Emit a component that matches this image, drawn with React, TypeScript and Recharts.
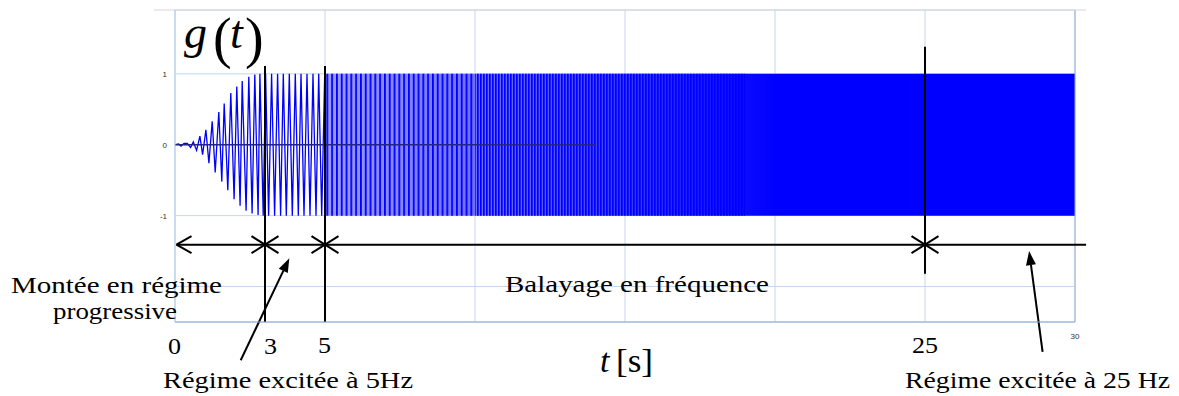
import React from "react";
import {
  ComposedChart,
  Line,
  Area,
  XAxis,
  YAxis,
  CartesianGrid,
  ReferenceLine,
} from "recharts";

// ramp-up (0-3 s) then steady 5 Hz (3-5 s): turning points
const waveTimes = [
  0, 0.12, 0.2, 0.3, 0.41, 0.52, 0.61, 0.72, 0.83, 0.92, 1.03, 1.13, 1.24,
  1.34, 1.46, 1.56, 1.64, 1.76, 1.86, 1.97, 2.06, 2.17, 2.24, 2.37, 2.46,
  2.57, 2.66, 2.77, 2.83, 2.94, 3.02, 3.12, 3.22, 3.32, 3.42, 3.52, 3.61,
  3.71, 3.81, 3.91, 4.01, 4.11, 4.2, 4.3, 4.4, 4.5, 4.6, 4.7, 4.79, 4.89,
  4.99,
];
const waveValues = [
  0, 0.01, -0.02, 0.02, 0.02, -0.04, 0.04, -0.08, 0.12, -0.14, 0.21, -0.26,
  0.33, -0.39, 0.46, -0.52, 0.58, -0.64, 0.73, -0.77, 0.82, -0.86, 0.9,
  -0.93, 0.96, -0.97, 0.99, -0.99, 1, -1, 1, -1, 1, -1, 1, -1, 1, -1, 1, -1,
  1, -1, 1, -1, 1, -1, 1, -1, 1, -1, 1,
];

// 5 -> 25 Hz sweep and 25 Hz part: too dense to resolve, kept as its envelope
const sweepTimes = [5, 10, 15, 19, 30];
const sweepUpper = [1, 1, 1, 1, 1];
const sweepLower = [-1, -1, -1, -1, -1];
// where the single cycles still show through (coarse, then fine)
const coarseEnd = 10;
const fineEnd = 19;

const xTicks = [0, 5, 10, 15, 20, 25, 30];
const yTicks = [-2, -1, 0, 1];
const yLabels = [-1, 0, 1];

// annotation markers (s)
const markTimes = [3, 5, 25];
const markTop = [1.11, 1.11, 1.38];
const markBottom = [-2.5, -2.5, -1.82];

const rows = [
  ...waveTimes.map((t, i) => ({ t, g: waveValues[i] })),
  ...sweepTimes.map((t, i) => {
    const env = [sweepLower[i], sweepUpper[i]];
    return {
      t,
      band: env,
      coarse: t <= coarseEnd ? env : undefined,
      fine: t >= coarseEnd && t <= fineEnd ? env : undefined,
    };
  }),
];

const serif = "'Liberation Serif', 'Times New Roman', serif";
const sans = "'Liberation Sans', Arial, sans-serif";

const arrowY = -1.41;
const cdx = 0.45;
const cdy = 0.12;

const chevrons: { x1: number; y1: number; x2: number; y2: number }[] = [];
markTimes.forEach((t) => {
  [-1, 1].forEach((sx) =>
    [-1, 1].forEach((sy) =>
      chevrons.push({ x1: t + sx * cdx, y1: arrowY + sy * cdy, x2: t, y2: arrowY })
    )
  );
});
[-1, 1].forEach((sy) =>
  chevrons.push({ x1: 0.05 + 0.5, y1: arrowY + sy * cdy, x2: 0.05, y2: arrowY })
);

const Pointer = (props: any) => {
  const { x1, y1, x2, y2 } = props;
  const a = Math.atan2(y2 - y1, x2 - x1);
  const len = 14;
  const half = 5;
  const bx = x2 - len * Math.cos(a);
  const by = y2 - len * Math.sin(a);
  const px = -Math.sin(a) * half;
  const py = Math.cos(a) * half;
  return (
    <g>
      <line x1={x1} y1={y1} x2={bx} y2={by} stroke="#000" strokeWidth={2} />
      <polygon
        points={`${x2},${y2} ${bx + px},${by + py} ${bx - px},${by - py}`}
        fill="#000"
      />
    </g>
  );
};

const XTick = ({ x, y, payload }: any) =>
  payload.value === 30 ? (
    <text x={x} y={y + 9} textAnchor="middle" fontSize={8} fontFamily={sans} fill="#333">
      30
    </text>
  ) : (
    <g />
  );

const YTick = ({ x, y, payload }: any) =>
  yLabels.includes(payload.value) ? (
    <text x={x - 6} y={y + 3} textAnchor="end" fontSize={8} fontFamily={sans} fill="#333">
      {payload.value}
    </text>
  ) : (
    <g />
  );

const Label = ({ x, y, size = 23, w, italic, children }: any) => (
  <text
    x={x}
    y={y}
    fontSize={size}
    fontStyle={italic ? "italic" : "normal"}
    textLength={w}
    lengthAdjust={w ? "spacingAndGlyphs" : undefined}
    style={{ fontFamily: serif }}
    fill="#000"
  >
    {children}
  </text>
);

export default function App() {
  return (
    <div style={{ position: "absolute", left: 0, top: 0, width: 1179, height: 396, background: "#fff" }}>
      <ComposedChart
        width={1179}
        height={396}
        data={rows}
        margin={{ top: 10, right: 104, bottom: 54, left: 135 }}
      >
        <defs>
          <linearGradient id="sweepFill" x1="0" y1="0" x2="1" y2="0">
            <stop offset="0" stopColor="#9c9cff" />
            <stop offset="0.2" stopColor="#7070ff" />
            <stop offset="0.4" stopColor="#3a3aff" />
            <stop offset="0.56" stopColor="#0a0aff" />
            <stop offset="0.6" stopColor="#0000ff" />
          </linearGradient>
          <pattern id="coarseStripes" width="4.8" height="8" patternUnits="userSpaceOnUse">
            <rect width="1.8" height="8" fill="#0000ff" />
          </pattern>
          <pattern id="fineStripes" width="3" height="8" patternUnits="userSpaceOnUse">
            <rect width="1.7" height="8" fill="#0000ff" />
          </pattern>
        </defs>
        <CartesianGrid stroke="#c4d6ee" />
        <XAxis
          dataKey="t"
          type="number"
          domain={[0, 30]}
          ticks={xTicks}
          tick={XTick}
          tickLine={false}
          axisLine={{ stroke: "#8ea8cc" }}
          height={20}
          allowDataOverflow
        />
        <YAxis
          type="number"
          domain={[-2.5, 1.9]}
          ticks={yTicks}
          tick={YTick}
          tickLine={false}
          tickSize={0}
          axisLine={{ stroke: "#b4cbe8" }}
          width={40}
          allowDataOverflow
        />
        <ReferenceLine x={30} stroke="#9ab0cc" />
        <ReferenceLine
          segment={[{ x: -0.7, y: 1.9 }, { x: 30.37, y: 1.9 }]}
          stroke="#d6d6d6"
          ifOverflow="visible"
        />
        <Area
          dataKey="band"
          type="linear"
          stroke="none"
          fill="url(#sweepFill)"
          fillOpacity={1}
          isAnimationActive={false}
        />
        <Area
          dataKey="coarse"
          type="linear"
          stroke="none"
          fill="url(#coarseStripes)"
          fillOpacity={1}
          isAnimationActive={false}
        />
        <Area
          dataKey="fine"
          type="linear"
          stroke="none"
          fill="url(#fineStripes)"
          fillOpacity={1}
          isAnimationActive={false}
        />
        <Line
          dataKey="g"
          type="linear"
          stroke="#0000ff"
          strokeWidth={1.3}
          dot={false}
          isAnimationActive={false}
        />
        <ReferenceLine
          segment={[{ x: 0, y: 0 }, { x: 14, y: 0 }]}
          stroke="#23238a"
          strokeWidth={1.5}
        />
        {markTimes.map((t, i) => (
          <ReferenceLine
            key={`m${t}`}
            segment={[{ x: t, y: markTop[i] }, { x: t, y: markBottom[i] }]}
            stroke="#000"
            strokeWidth={2}
            ifOverflow="visible"
          />
        ))}
        <ReferenceLine
          segment={[{ x: 0.05, y: arrowY }, { x: 30.37, y: arrowY }]}
          stroke="#000"
          strokeWidth={2}
          ifOverflow="visible"
        />
        {chevrons.map((c, i) => (
          <ReferenceLine
            key={`c${i}`}
            segment={[{ x: c.x1, y: c.y1 }, { x: c.x2, y: c.y2 }]}
            stroke="#000"
            strokeWidth={2}
            ifOverflow="visible"
          />
        ))}
        <ReferenceLine
          segment={[{ x: 2.19, y: -3.04 }, { x: 3.81, y: -1.6 }]}
          ifOverflow="visible"
          shape={Pointer}
        />
        <ReferenceLine
          segment={[{ x: 28.92, y: -2.92 }, { x: 28.47, y: -1.5 }]}
          ifOverflow="visible"
          shape={Pointer}
        />
      </ComposedChart>
      <svg
        width={1179}
        height={396}
        style={{ position: "absolute", left: 0, top: 0, pointerEvents: "none" }}
      >
        <Label x={184} y={48} size={46} italic>g</Label>
        <Label x={213} y={57} size={56}>(</Label>
        <Label x={230} y={48} size={46} italic>t</Label>
        <Label x={245} y={57} size={56}>)</Label>

        <Label x={11} y={293} w={211}>Montée en régime</Label>
        <Label x={53} y={319} w={124}>progressive</Label>
        <Label x={505} y={292} w={264}>Balayage en fréquence</Label>

        <Label x={168} y={354} size={24} w={13}>0</Label>
        <Label x={264} y={354} size={24} w={13}>3</Label>
        <Label x={318} y={353} size={24} w={13}>5</Label>
        <Label x={912} y={353} size={24} w={26}>25</Label>

        <Label x={600} y={372} size={34} italic>t</Label>
        <Label x={616} y={372} size={34} w={37}>[s]</Label>

        <Label x={163} y={388} w={250}>Régime excitée à 5Hz</Label>
        <Label x={905} y={388} w={265}>Régime excitée à 25 Hz</Label>
      </svg>
    </div>
  );
}
